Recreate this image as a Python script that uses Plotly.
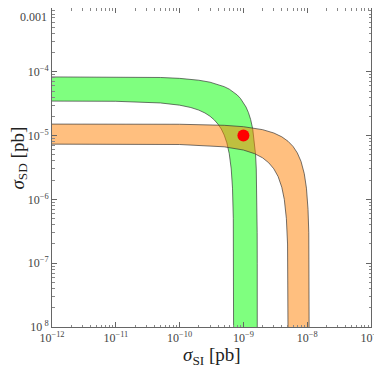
import plotly.graph_objects as go

# green band (outer edge, then inner edge)
green_outer_x = [1e-13, 1e-11, 5e-11, 1e-10, 2e-10, 3e-10, 4e-10, 5e-10, 6e-10, 7e-10, 8e-10, 9e-10,
                 1e-9, 1.1e-9, 1.2e-9, 1.3e-9, 1.4e-9, 1.5e-9, 1.552e-9, 1.591e-9, 1.63e-9, 1.644e-9, 1.648e-9, 1.65e-9]
green_outer_y = [8.4e-5, 8.35e-5, 8.15e-5, 7.89e-5, 7.38e-5, 6.87e-5, 6.36e-5, 5.85e-5, 5.35e-5, 4.84e-5, 4.33e-5, 3.82e-5,
                 3.31e-5, 2.8e-5, 2.29e-5, 1.78e-5, 1.27e-5, 7.6e-6, 5e-6, 3e-6, 1e-6, 3e-7, 1e-7, 1e-9]
green_inner_x = [1e-13, 1e-11, 5e-11, 1e-10, 1.5e-10, 2e-10, 2.5e-10, 3e-10, 3.5e-10, 4e-10, 4.5e-10, 5e-10,
                 5.5e-10, 6e-10, 6.446e-10, 6.748e-10, 6.949e-10, 7.02e-10, 7.05e-10]
green_inner_y = [3.5e-5, 3.45e-5, 3.25e-5, 3.0e-5, 2.755e-5, 2.51e-5, 2.26e-5, 2.01e-5, 1.76e-5, 1.51e-5, 1.27e-5, 1.02e-5,
                 7.7e-6, 5.2e-6, 3e-6, 1.5e-6, 5e-7, 1.5e-7, 1e-9]

# orange band
orange_outer_x = [1e-13, 1e-11, 1e-10, 5e-10, 1e-9, 2e-9, 3e-9, 4e-9, 5e-9, 6e-9, 7e-9, 8e-9, 9e-9,
                  9.73e-9, 1.03e-8, 1.059e-8, 1.073e-8, 1.08e-8]
orange_outer_y = [1.52e-5, 1.519e-5, 1.506e-5, 1.45e-5, 1.379e-5, 1.239e-5, 1.098e-5, 9.57e-6, 8.16e-6, 6.76e-6, 5.35e-6, 3.94e-6, 2.53e-6,
                  1.5e-6, 7e-7, 3e-7, 1e-7, 1e-9]
orange_inner_x = [1e-13, 1e-11, 1e-10, 5e-10, 1e-9, 1.5e-9, 2e-9, 2.5e-9, 3e-9, 3.5e-9, 4e-9,
                  4.376e-9, 4.718e-9, 4.923e-9, 5.026e-9, 5.06e-9]
orange_inner_y = [7.4e-6, 7.385e-6, 7.25e-6, 6.67e-6, 5.94e-6, 5.21e-6, 4.48e-6, 3.74e-6, 3.01e-6, 2.28e-6, 1.55e-6,
                  1e-6, 5e-7, 2e-7, 5e-8, 1e-9]

point_x = [1e-9]
point_y = [1e-5]

x_tickvals = [1e-12, 1e-11, 1e-10, 1e-9, 1e-8, 1e-7]
x_ticktext = ["10<sup>−12</sup>", "10<sup>−11</sup>", "10<sup>−10</sup>", "10<sup>−9</sup>", "10<sup>−8</sup>", "10<sup>−7</sup>"]
y_tickvals = [1e-8, 1e-7, 1e-6, 1e-5, 1e-4]
y_ticktext = ["10<sup> 8</sup>", "10<sup>−7</sup>", "10<sup>−6</sup>", "10<sup>−5</sup>", "10<sup>−4</sup>"]
y_top_label = "0.001"

FONT = "Liberation Serif"
edge = dict(color="rgba(50,50,50,0.85)", width=0.8)

fig = go.Figure()
fig.add_trace(go.Scatter(
    x=green_outer_x + green_inner_x[::-1],
    y=green_outer_y + green_inner_y[::-1],
    fill="toself", fillcolor="rgba(0,255,0,0.5)", mode="lines", line=edge,
    hoverinfo="skip", showlegend=False
))
fig.add_trace(go.Scatter(
    x=orange_outer_x + orange_inner_x[::-1],
    y=orange_outer_y + orange_inner_y[::-1],
    fill="toself", fillcolor="rgba(255,127,0,0.5)", mode="lines", line=edge,
    hoverinfo="skip", showlegend=False
))
fig.add_trace(go.Scatter(
    x=point_x, y=point_y, mode="markers",
    marker=dict(color="red", size=12, line=dict(width=0)),
    showlegend=False
))

axis_common = dict(
    type="log", showgrid=False, zeroline=False, automargin=False,
    showline=True, linecolor="#666", linewidth=1, mirror="allticks",
    ticks="inside", ticklen=5, tickcolor="#666",
    tickmode="array", ticklabeloverflow="allow",
    tickfont=dict(family=FONT, size=12, color="#444"),
    minor=dict(ticks="inside", ticklen=2.5, tickcolor="#888", dtick="D1", showgrid=False),
)

fig.update_xaxes(range=[-12, -7], tickvals=x_tickvals, ticktext=x_ticktext, **axis_common)
fig.update_yaxes(range=[-8, -3], tickvals=y_tickvals, ticktext=y_ticktext, **axis_common)

# top y label would be clipped by the page edge, so it goes in as an annotation
fig.add_annotation(
    text=y_top_label, xref="paper", yref="paper", x=0, y=1, xshift=-3,
    xanchor="right", yanchor="top", showarrow=False,
    font=dict(family=FONT, size=12, color="#444")
)

# axis titles as annotations so they sit where the reference has them
fig.add_annotation(
    text="<i>σ</i><sub>SI</sub> [pb]", xref="paper", yref="paper", x=0.5, y=0,
    yshift=-29, showarrow=False, yanchor="middle",
    font=dict(family=FONT, size=19, color="#222")
)
fig.add_annotation(
    text="<i>σ</i><sub>SD</sub> [pb]", xref="paper", yref="paper", x=0, y=0.5,
    xshift=-34, yshift=9, showarrow=False, textangle=-90, xanchor="center",
    font=dict(family=FONT, size=19, color="#222")
)

# page adds 8px body margin, so size the figure to the rest of the window
fig.update_layout(
    template="none",
    width=374, height=361,
    margin=dict(l=44, r=11, t=0, b=42),
    plot_bgcolor="white", paper_bgcolor="white",
)

fig.write_html("out.html")
